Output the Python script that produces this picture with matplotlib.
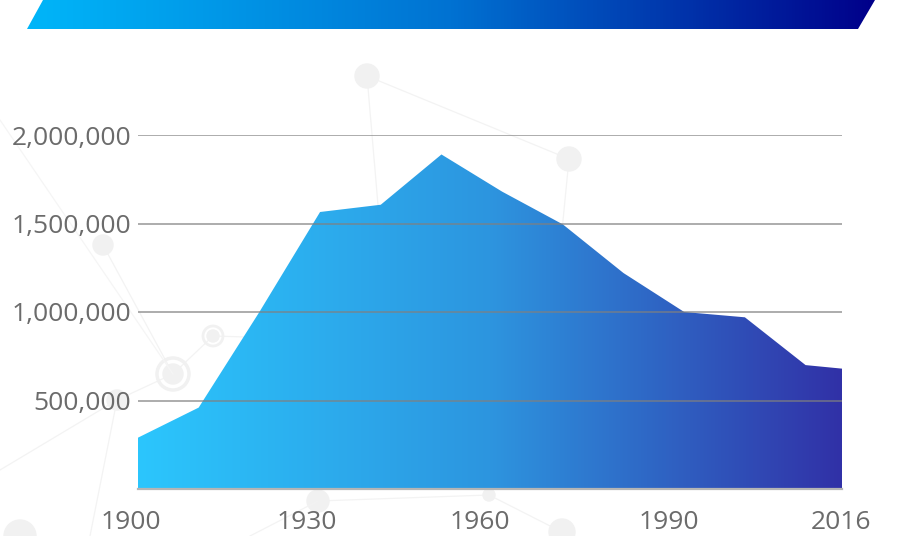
import matplotlib
matplotlib.use("Agg")
import matplotlib.pyplot as plt
import matplotlib.transforms as mtrans
import numpy as np
from matplotlib.colors import LinearSegmentedColormap
from matplotlib.patches import Polygon, Circle
from matplotlib.ticker import FuncFormatter

# data
years = [1900, 1910, 1920, 1930, 1940, 1950, 1960, 1970, 1980, 1990, 2000, 2010, 2016]
population = [290000, 460000, 1000000, 1565000, 1606000, 1890000, 1680000,
              1495000, 1220000, 1000000, 970000, 700000, 680000]
x_ticks = [1900, 1930, 1960, 1990, 2016]
y_ticks = [500000, 1000000, 1500000, 2000000]

W, H = 901, 536
fig = plt.figure(figsize=(W / 100, H / 100), dpi=100)

# background layer in pixel coordinates (banner + faint network pattern)
bg = fig.add_axes([0, 0, 1, 1], zorder=0)
bg.set_xlim(0, W)
bg.set_ylim(H, 0)
bg.axis("off")

nodes = [(367, 76, 12), (569, 159, 12), (103, 245, 10), (173, 374, 10), (213, 336, 6),
         (117, 400, 10), (318, 501, 11), (489, 495, 6), (562, 532, 13), (20, 536, 16),
         (385, 287, 6), (345, 340, 7), (420, 365, 8), (557, 282, 8)]
links = [(0, 1), (0, 10), (1, 13), (2, 3), (3, 4), (3, 5), (6, 7), (7, 8), (10, 11),
         (11, 12), (12, 7), (4, 11), (13, 12)]
for a, b in links:
    bg.plot([nodes[a][0], nodes[b][0]], [nodes[a][1], nodes[b][1]],
            color="#f3f3f3", lw=0.9, zorder=0)
bg.plot([117, 0], [400, 470], color="#f3f3f3", lw=0.9)
bg.plot([117, 90], [400, 536], color="#f3f3f3", lw=0.9)
bg.plot([0, 173], [120, 374], color="#f5f5f5", lw=0.9)
bg.plot([318, 250], [501, 536], color="#f3f3f3", lw=0.9)
for cx, cy, r in nodes:
    bg.add_patch(Circle((cx, cy), r, color="#f1f1f1", zorder=1))
bg.add_patch(Circle((173, 374), 16, fill=False, ec="#f1f1f1", lw=2.5, zorder=1))
bg.add_patch(Circle((213, 336), 10, fill=False, ec="#f1f1f1", lw=2, zorder=1))

# title banner
banner_cmap = LinearSegmentedColormap.from_list("banner", ["#00b6f9", "#0072d2", "#00008a"])
bimg = bg.imshow(np.linspace(0, 1, 256).reshape(1, -1), cmap=banner_cmap, aspect="auto",
                 extent=[27, 875, 29, 0], zorder=2)
bshape = Polygon([(43, 0), (875, 0), (858, 29), (27, 29)], closed=True,
                 transform=bg.transData, fc="none", ec="none")
bg.add_patch(bshape)
bimg.set_clip_path(bshape)
bg.set_xlim(0, W)
bg.set_ylim(H, 0)

# main chart
ax = fig.add_axes([138 / W, 1 - 489 / H, 704 / W, (489 - 135) / H], zorder=1)
ax.patch.set_alpha(0)

area_cmap = LinearSegmentedColormap.from_list("area", ["#2bc6fd", "#2d95df", "#3131a7"])
img = ax.imshow(np.linspace(0, 1, 256).reshape(1, -1), cmap=area_cmap, aspect="auto",
                extent=[years[0], years[-1], 0, 2000000], zorder=1)
verts = list(zip(years, population)) + [(years[-1], 0), (years[0], 0)]
area = Polygon(verts, closed=True, fc="none", ec="none", transform=ax.transData)
ax.add_patch(area)
img.set_clip_path(area)

ax.set_xlim(years[0], years[-1])
ax.set_ylim(0, 2000000)
ax.set_axisbelow(False)
ax.yaxis.grid(True, color="#808080", lw=1.3, alpha=0.7)
ax.xaxis.grid(False)

for s in ["top", "right", "left"]:
    ax.spines[s].set_visible(False)
ax.spines["bottom"].set_color("#b5b5b5")
ax.spines["bottom"].set_linewidth(1.6)
ax.spines["bottom"].set_zorder(3)

ax.set_yticks(y_ticks)
ax.yaxis.set_major_formatter(FuncFormatter(lambda v, p: f"{int(v):,}"))
ax.set_xticks(x_ticks)
ax.set_xticklabels([str(t) for t in x_ticks])
ax.tick_params(axis="both", length=0, labelsize=19, labelcolor="#6b6b6b")
ax.tick_params(axis="y", pad=5)
ax.tick_params(axis="x", pad=15)
for lab in ax.get_xticklabels() + ax.get_yticklabels():
    lab.set_fontfamily("Open Sans")

# the labels under the axis sit a little left of their years in the original
shifts = [-7, -13, -22, -15, -1]
for lab, dx in zip(ax.get_xticklabels(), shifts):
    lab.set_transform(lab.get_transform() +
                      mtrans.ScaledTranslation(dx / 100, 0, fig.dpi_scale_trans))

fig.savefig("out.png", dpi=100)
